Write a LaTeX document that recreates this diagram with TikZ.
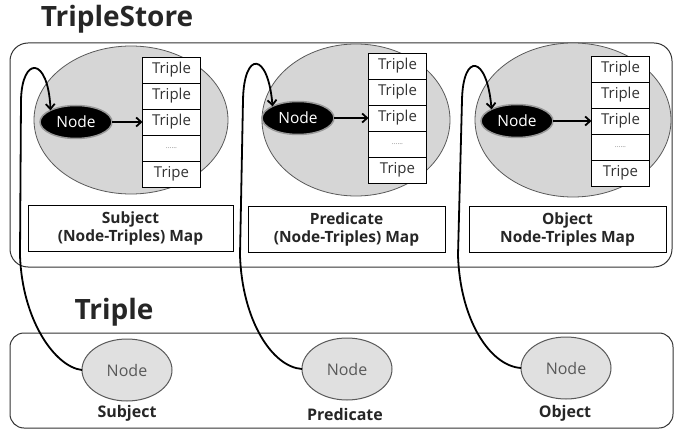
\documentclass[tikz,border=0pt]{standalone}
\usepackage{fontspec}
\setmainfont{Open Sans}
\usetikzlibrary{shapes.geometric,positioning,arrows.meta}

\begin{document}
\begin{tikzpicture}
    [x=1pt, y=-1pt,
    every node/.style={inner sep=1pt, outer sep=0pt},
    container/.style={draw=black!80, line width=1pt, rounded corners=18pt},
    mapzone/.style={ellipse, draw=black!65, fill=black!16, line width=0.8pt},
    keynode/.style={ellipse, draw=black!40, fill=black, line width=1.5pt, text=white,
        minimum width=72pt, minimum height=33pt, font=\fontsize{15.5}{15.5}\selectfont},
    cell/.style={draw=black, fill=white, line width=0.9pt, minimum width=58pt,
        minimum height=26pt, text=black!80, font=\fontsize{15}{15}\selectfont},
    maplabel/.style={draw=black, fill=white, line width=0.9pt, minimum height=46pt,
        align=center, text=black!85, font=\bfseries\fontsize{15.5}{18}\selectfont},
    termnode/.style={ellipse, draw=black!65, fill=black!12, line width=1pt, text=black!65,
        minimum width=90pt, minimum height=62pt, font=\fontsize{16}{16}\selectfont},
    rolelabel/.style={text=black!85, font=\bfseries\fontsize{16}{16}\selectfont},
    heading/.style={text=black!85, font=\bfseries\fontsize{28}{28}\selectfont},
    link/.style={draw=black, line width=1.8pt, -{Straight Barb[length=5pt,width=9pt]}}]
    \useasboundingbox (0,0) rectangle (674,430);

    \node[heading] (storetitle) at (117,19) {TripleStore};
    \node[container, minimum width=662pt, minimum height=224pt] (store) at (341,155) {};

    % subject map
    \node[mapzone, minimum width=194pt, minimum height=148pt] (zs) at (131,120) {};
    \node[cell] (s1) at (171.5,70) {Triple};
    \node[cell, below=0pt of s1] (s2) {Triple};
    \node[cell, below=0pt of s2] (s3) {Triple};
    \node[cell, below=0pt of s3, text=black!50, font=\fontsize{7}{7}\selectfont] (s4) {......};
    \node[cell, below=0pt of s4] (s5) {Tripe};
    \node[keynode] (ks) at (76,122) {Node};
    \draw[link] (ks) -- (s3);
    \node[maplabel, minimum width=205pt] (ms) at (130.5,228) {Subject\\(Node-Triples) Map};

    % predicate map
    \node[mapzone, minimum width=188pt, minimum height=152pt] (zp) at (356,120) {};
    \node[cell] (p1) at (397.5,66) {Triple};
    \node[cell, below=0pt of p1] (p2) {Triple};
    \node[cell, below=0pt of p2] (p3) {Triple};
    \node[cell, below=0pt of p3, text=black!50, font=\fontsize{7}{7}\selectfont] (p4) {......};
    \node[cell, below=0pt of p4] (p5) {Tripe};
    \node[keynode] (kp) at (298,118) {Node};
    \draw[link] (kp) -- (p3);
    \node[maplabel, minimum width=197pt] (mp) at (346.5,229) {Predicate\\(Node-Triples) Map};

    % object map
    \node[mapzone, minimum width=196pt, minimum height=154pt] (zo) at (573,120) {};
    \node[cell] (o1) at (620.5,69) {Triple};
    \node[cell, below=0pt of o1] (o2) {Triple};
    \node[cell, below=0pt of o2] (o3) {Triple};
    \node[cell, below=0pt of o3, text=black!50, font=\fontsize{7}{7}\selectfont] (o4) {......};
    \node[cell, below=0pt of o4] (o5) {Tripe};
    \node[keynode] (ko) at (517,121) {Node};
    \draw[link] (ko) -- (o3);
    \node[maplabel, minimum width=197pt] (mo) at (567.5,229) {Object\\Node-Triples Map};

    % triple
    \node[heading] (tripletitle) at (114,312) {Triple};
    \node[container, rounded corners=14pt, minimum width=663pt, minimum height=95pt] (triple) at (341.5,380.5) {};
    \node[termnode] (bs) at (127,370) {Node};
    \node[rolelabel] (ls) at (127,413) {Subject};
    \node[termnode] (bp) at (347,369) {Node};
    \node[rolelabel] (lp) at (345,414) {Predicate};
    \node[termnode] (bo) at (566,368) {Node};
    \node[rolelabel] (lo) at (565,413) {Object};

    \draw[link] (bs.west) .. controls (55,367) and (22,320) .. (20,255)
        -- (21,100) .. controls (22,56) and (48,56) .. (ks.north west);
    \draw[link] (bp.west) .. controls (272,367) and (242,320) .. (240,255)
        -- (243,100) .. controls (244,50) and (268,52) .. (kp.north west);
    \draw[link] (bo.west) .. controls (490,366) and (460,320) .. (458,255)
        -- (462,100) .. controls (463,52) and (487,55) .. (ko.north west);
\end{tikzpicture}
\end{document}
